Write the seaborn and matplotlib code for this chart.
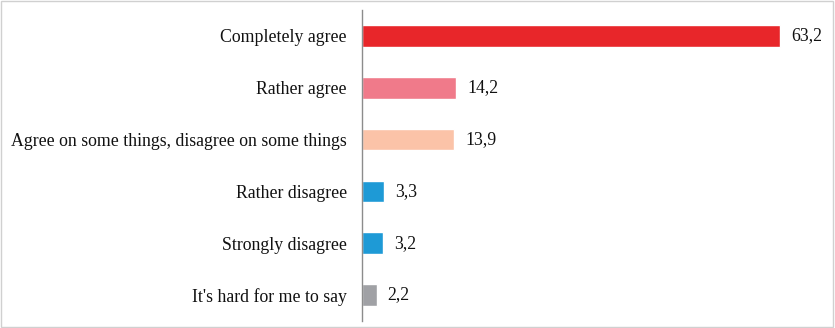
import matplotlib
matplotlib.use("Agg")
import matplotlib.pyplot as plt
import seaborn as sns
import pandas as pd

categories = ["Completely agree", "Rather agree", "Agree on some things, disagree on some things",
              "Rather disagree", "Strongly disagree", "It's hard for me to say"]
values = [63.2, 14.2, 13.9, 3.3, 3.2, 2.2]
colors = ["#E8262A", "#F07A8A", "#FBC3A8", "#1E9AD6", "#1E9AD6", "#A0A1A5"]

sns.set_style("white")
plt.rcParams["font.family"] = ["Liberation Serif", "DejaVu Serif"]

df = pd.DataFrame({"category": categories, "value": values})

fig = plt.figure(figsize=(8.35, 3.28), dpi=100)
ax = fig.add_axes([362/835, 1 - 321/328, (830-362)/835, (321-10)/328])

sns.barplot(data=df, y="category", x="value", hue="category", palette=colors,
            orient="h", width=0.42, legend=False, ax=ax, saturation=1)

for cont, v in zip(ax.containers, values):
    ax.bar_label(cont, labels=[f"{v:.1f}".replace(".", ",")], padding=8, fontsize=12.8, color="#111111")

ax.set_xlim(0, (830-362)/6.61)
ax.set_ylim(5.5, -0.5)
ax.set_xlabel("")
ax.set_ylabel("")
ax.set_xticks([])
ax.tick_params(axis="y", length=0, pad=11, labelsize=12.8, labelcolor="#111111")
for s in ["top", "right", "bottom"]:
    ax.spines[s].set_visible(False)
ax.spines["left"].set_color("#8C8C8C")
ax.spines["left"].set_linewidth(1.0)

border = plt.Rectangle((0.001, 0.002), 0.997, 0.995, transform=fig.transFigure,
                       fill=False, edgecolor="#D0D0D0", linewidth=1.0)
fig.patches.append(border)

fig.savefig("out.png", dpi=100)
